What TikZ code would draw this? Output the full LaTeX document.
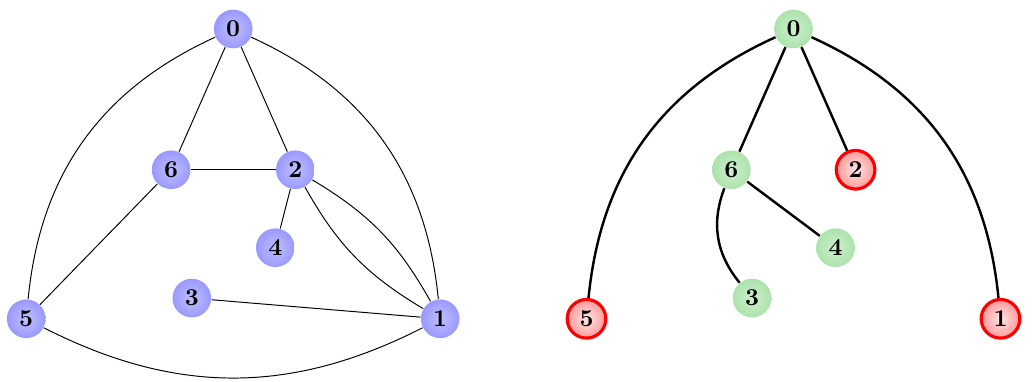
\documentclass[tikz,border=0pt]{standalone}
\definecolor{verdefora}{RGB}{172,226,172}
\definecolor{verdedentro}{RGB}{205,240,205}
\tikzset{
	vertice/.style={circle, minimum size=0.56cm, inner sep=0pt, font=\bfseries},
	azul/.style={vertice, inner color=blue!25, outer color=blue!40},
	verde/.style={vertice, inner color=verdedentro, outer color=verdefora},
	vermelho/.style={vertice, draw=red, line width=1.3pt, inner color=red!10, outer color=red!40},
}
\begin{document}
\begin{tikzpicture}
		\useasboundingbox (0,0) rectangle (15,-5.522);
		% Grafo
		\node[azul] (L0) at (3.38,-0.42) {0};
		\node[azul] (L6) at (2.48,-2.46) {6};
		\node[azul] (L2) at (4.28,-2.46) {2};
		\node[azul] (L4) at (3.99,-3.59) {4};
		\node[azul] (L3) at (2.78,-4.32) {3};
		\node[azul] (L5) at (0.38,-4.62) {5};
		\node[azul] (L1) at (6.38,-4.62) {1};
		
		% Arestas
		\draw (L0) -- (L6);
		\draw (L0) -- (L2);
		\draw (L6) -- (L2);
		\draw (L2) -- (L4);
		\draw (L6) -- (L5);
		\draw (L3) -- (L1);
		\draw (L2) to[bend left=15] (L1);
		\draw (L2) to[bend right=15] (L1);
		\draw (L0) to[bend right=30] (L5);
		\draw (L0) to[bend left=30] (L1);
		\draw (L5) to[bend right=27] (L1);
		
		% Arvore
		\begin{scope}[xshift=8.12cm]
			\node[verde] (R0) at (3.38,-0.42) {0};
			\node[verde] (R6) at (2.48,-2.46) {6};
			\node[vermelho] (R2) at (4.28,-2.46) {2};
			\node[verde] (R4) at (3.99,-3.59) {4};
			\node[verde] (R3) at (2.78,-4.32) {3};
			\node[vermelho] (R5) at (0.38,-4.62) {5};
			\node[vermelho] (R1) at (6.38,-4.62) {1};
			
			\draw[line width=1pt] (R0) -- (R6);
			\draw[line width=1pt] (R0) -- (R2);
			\draw[line width=1pt] (R6) -- (R4);
			\draw[line width=1pt] (R6) to[bend right=30] (R3);
			\draw[line width=1pt] (R0) to[bend right=30] (R5);
			\draw[line width=1pt] (R0) to[bend left=30] (R1);
		\end{scope}
\end{tikzpicture}
\end{document}
